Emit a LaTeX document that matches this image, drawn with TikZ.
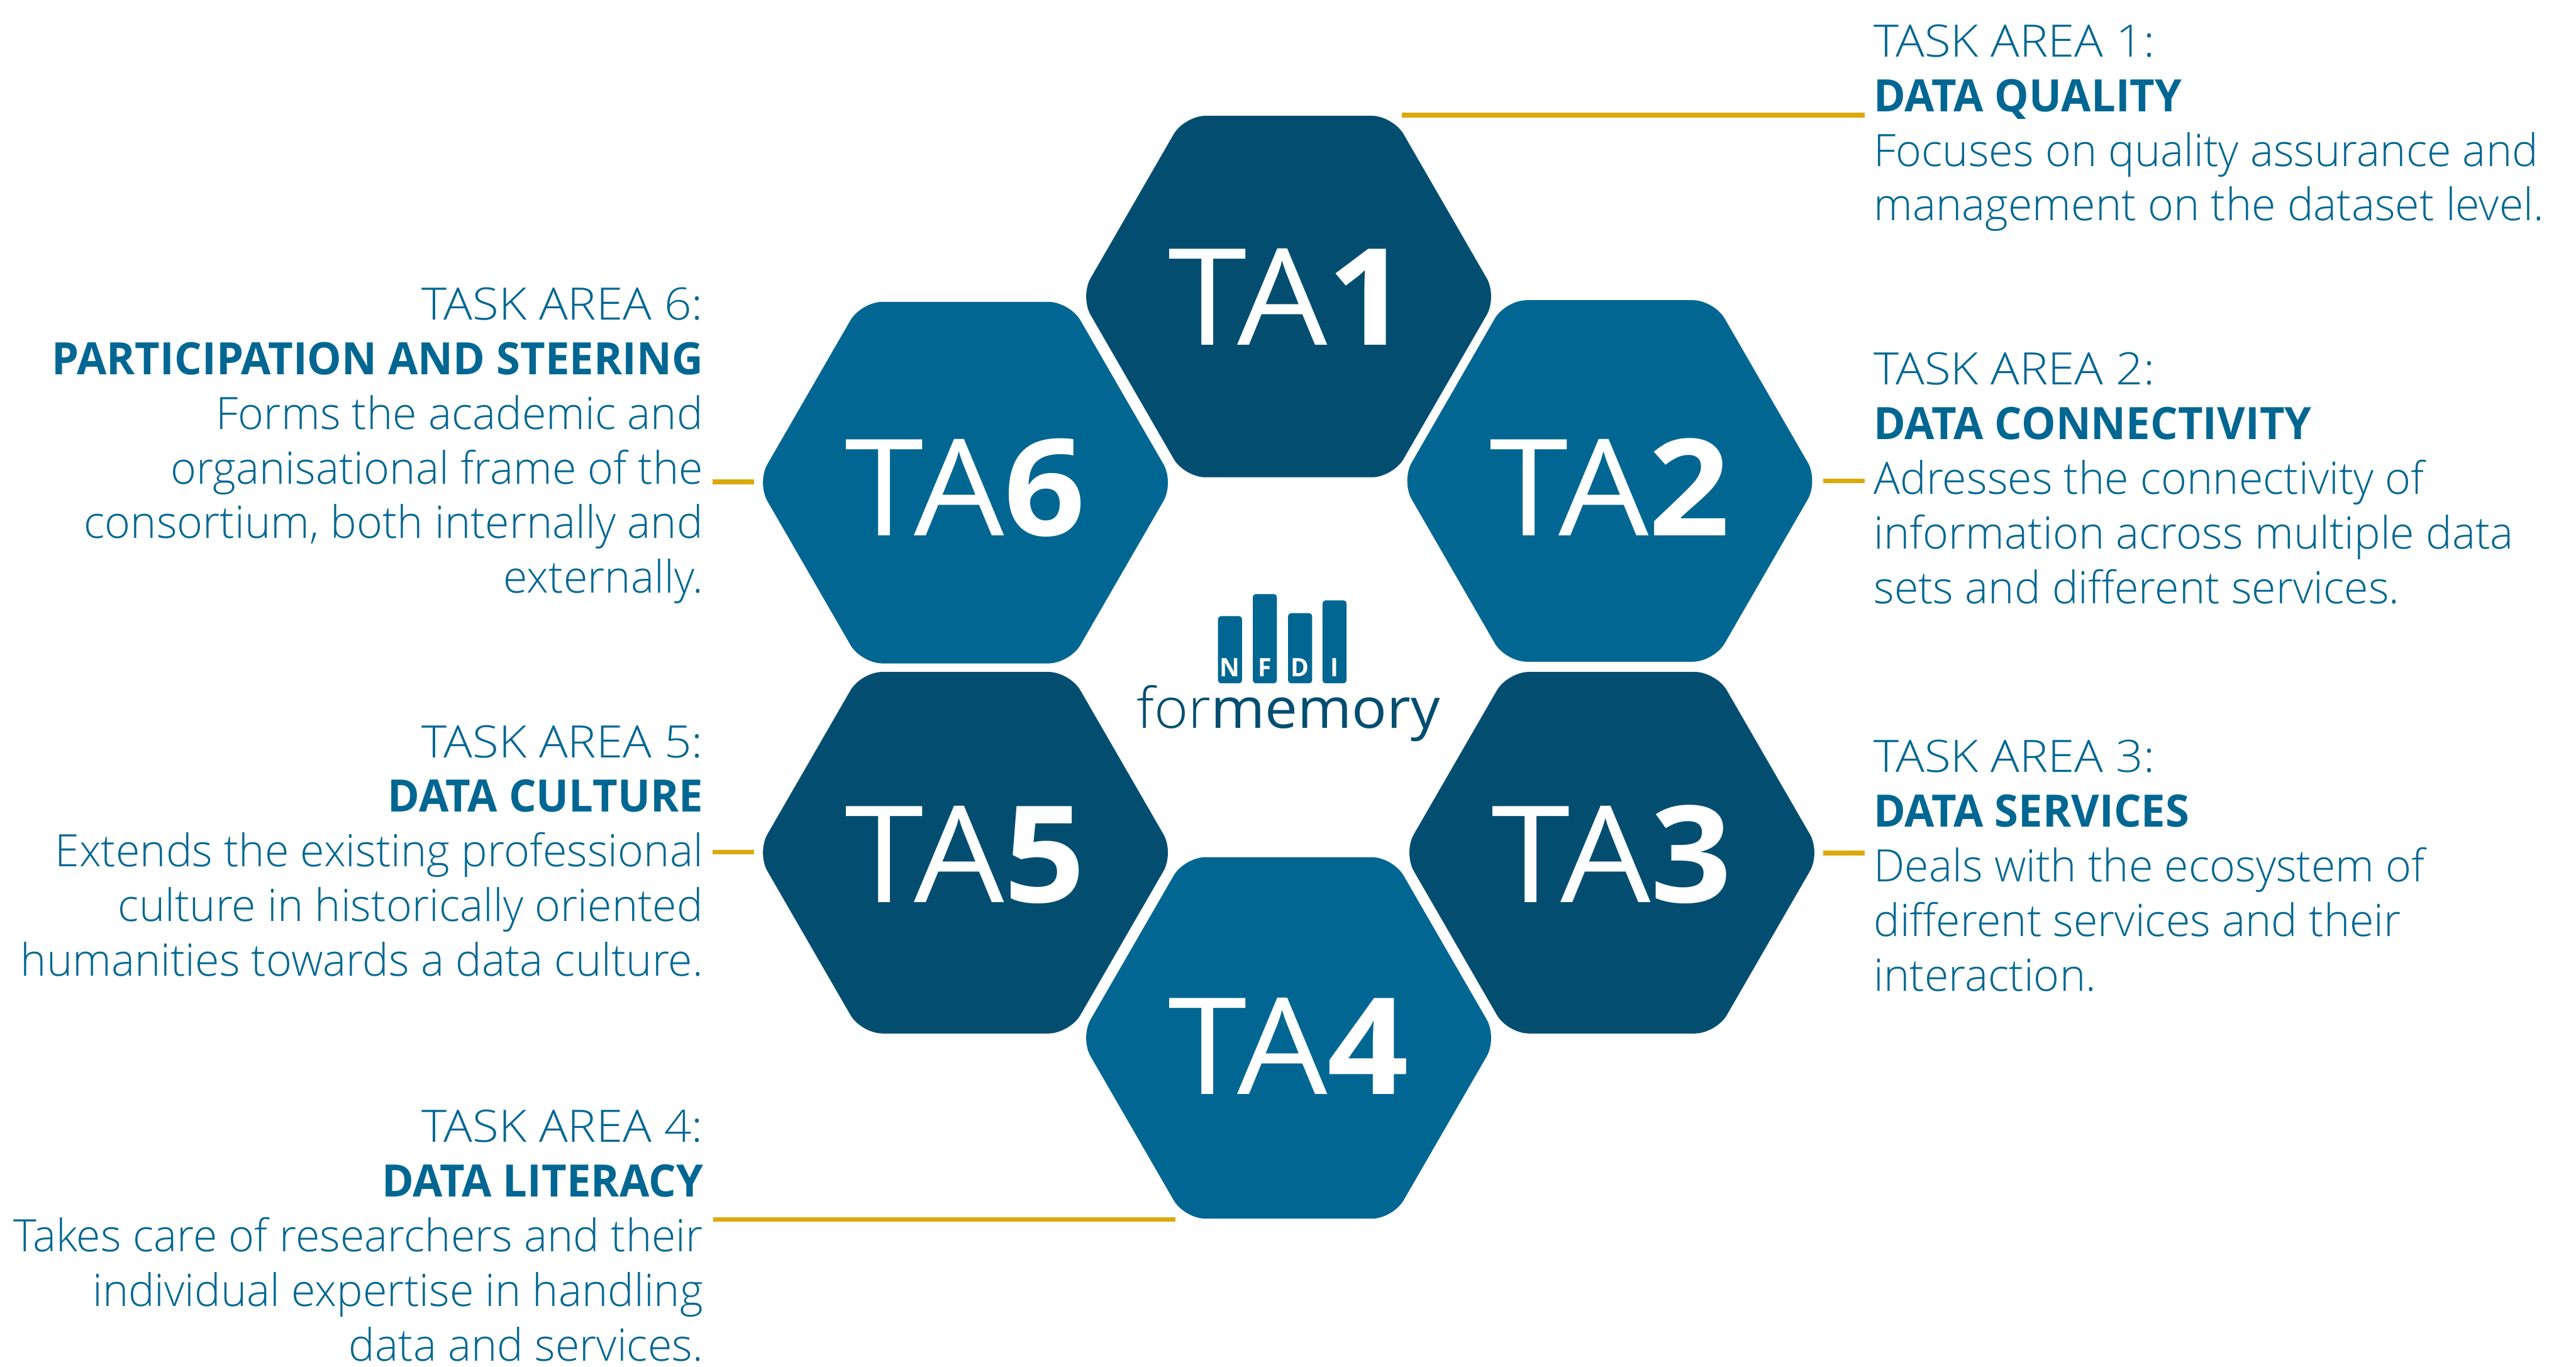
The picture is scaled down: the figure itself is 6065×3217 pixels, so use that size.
\documentclass[tikz,border=0pt]{standalone}
\usepackage{fontspec}
\setmainfont{Open Sans Light}[FakeStretch=0.986,BoldFont={Open Sans Bold},BoldFeatures={FakeStretch=0.968}]
\newfontfamily\taskfont{Open Sans Light}[FakeStretch=1.075]
\newfontfamily\hexafont{Open Sans}[FakeStretch=1.06]
\newfontfamily\hexbfont{Open Sans Bold}[FakeStretch=1.06]
\newfontfamily\logofont{Open Sans}[FakeStretch=1.04]
\newfontfamily\logolfont{Open Sans Light}[FakeStretch=1.04]
\usetikzlibrary{shapes.geometric}

\definecolor{tadark}{HTML}{034E70}
\definecolor{tamid}{HTML}{016792}
\definecolor{tagold}{HTML}{DBA90C}

\newcommand{\hexfont}{\fontsize{90}{90}\selectfont\hexafont}
\newcommand{\blockfont}{\fontsize{29.9}{36.56}\selectfont}
\newcommand{\tasktitle}[1]{{\taskfont #1}}
\newcommand{\hexlabel}[2]{\raisebox{-#2cm}{TA{\hexbfont #1}}}

\begin{document}
\begin{tikzpicture}[x=0.01cm,y=-0.01cm]
\tikzset{hexa/.style = {shape=regular polygon,regular polygon sides=6,minimum size=9.82cm,inner sep=0pt,rounded corners=0.5cm,text=white,text height=2.28cm,text depth=0pt,font=\hexfont}}
\tikzset{hexdark/.style = {hexa,fill=tadark}}
\tikzset{hexmid/.style = {hexa,fill=tamid}}
\tikzset{blockr/.style = {anchor=north west,inner sep=0pt,align=left,text=tamid,font=\blockfont}}
\tikzset{blockl/.style = {anchor=north east,inner sep=0pt,align=right,text=tamid,font=\blockfont}}
\tikzset{leader/.style = {-,draw=tagold,line width=0.11cm}}
\tikzset{bar/.style = {anchor=south,fill=tamid,inner sep=0pt,minimum width=0.565cm,rounded corners=0.07cm}}
\tikzset{barletter/.style = {anchor=base,inner sep=0pt,text=white,font=\fontsize{17}{17}\selectfont\bfseries}}
\useasboundingbox (0,0) rectangle (6065,3217);

\node[hexdark] (ta1) at (3034,698) {\hexlabel{1}{0}};
\node[hexmid] (ta2) at (3790,1132) {\hexlabel{2}{0.14}};
\node[hexdark] (ta3) at (3795,2007) {\hexlabel{3}{0.03}};
\node[hexmid] (ta4) at (3034,2443) {\hexlabel{4}{0.19}};
\node[hexdark] (ta5) at (2273,2007) {\hexlabel{5}{0.03}};
\node[hexmid] (ta6) at (2273,1136) {\hexlabel{6}{0.10}};

\node[blockr] (area1) at (4411,57) {\tasktitle{TASK AREA 1:}\\\textbf{DATA QUALITY}\\Focuses on quality assurance and\\management on the dataset level.};
\node[blockr] (area2) at (4411,829) {\tasktitle{TASK AREA 2:}\\\textbf{DATA CONNECTIVITY}\\Adresses the connectivity of\\information across multiple data\\sets and different services.};
\node[blockr] (area3) at (4411,1741) {\tasktitle{TASK AREA 3:}\\\textbf{DATA SERVICES}\\Deals with the ecosystem of\\different services and their\\interaction.};
\node[blockl] (area4) at (1656,2612) {\tasktitle{TASK AREA 4:}\\\textbf{DATA LITERACY}\\Takes care of researchers and their\\individual expertise in handling\\data and services.};
\node[blockl] (area5) at (1656,1706) {\tasktitle{TASK AREA 5:}\\\textbf{DATA CULTURE}\\Extends the existing professional\\culture in historically oriented\\humanities towards a data culture.};
\node[blockl] (area6) at (1656,676) {\tasktitle{TASK AREA 6:}\\\textbf{PARTICIPATION AND STEERING}\\Forms the academic and\\organisational frame of the\\consortium, both internally and\\externally.};

\coordinate (lead1a) at (3300,271);
\coordinate (lead1b) at (4390,271);
\coordinate (lead2a) at (4292,1132);
\coordinate (lead2b) at (4390,1132);
\coordinate (lead3a) at (4292,2008);
\coordinate (lead3b) at (4390,2008);
\coordinate (lead4a) at (2768,2870);
\coordinate (lead4b) at (1679,2870);
\coordinate (lead5a) at (1775,2006);
\coordinate (lead5b) at (1678,2006);
\coordinate (lead6a) at (1775,1134);
\coordinate (lead6b) at (1678,1134);
\draw[leader] (lead1a) to (lead1b);
\draw[leader] (lead2a) to (lead2b);
\draw[leader] (lead3a) to (lead3b);
\draw[leader] (lead4a) to (lead4b);
\draw[leader] (lead5a) to (lead5b);
\draw[leader] (lead6a) to (lead6b);

\node[bar,minimum height=1.58cm] (barn) at (2896,1609) {};
\node[bar,minimum height=2.10cm] (barf) at (2978,1609) {};
\node[bar,minimum height=1.65cm] (bard) at (3061,1609) {};
\node[bar,minimum height=1.95cm] (bari) at (3142,1609) {};
\node[barletter] (letn) at (2896,1593) {N};
\node[barletter] (letf) at (2978,1593) {F};
\node[barletter] (letd) at (3061,1593) {D};
\node[barletter] (leti) at (3142,1593) {I};
\node[anchor=base,inner sep=0pt,text=tadark,font=\fontsize{37.5}{37.5}\selectfont] (logo) at (3034,1714) {{\logolfont for}{\logofont memory}};
\end{tikzpicture}
\end{document}
